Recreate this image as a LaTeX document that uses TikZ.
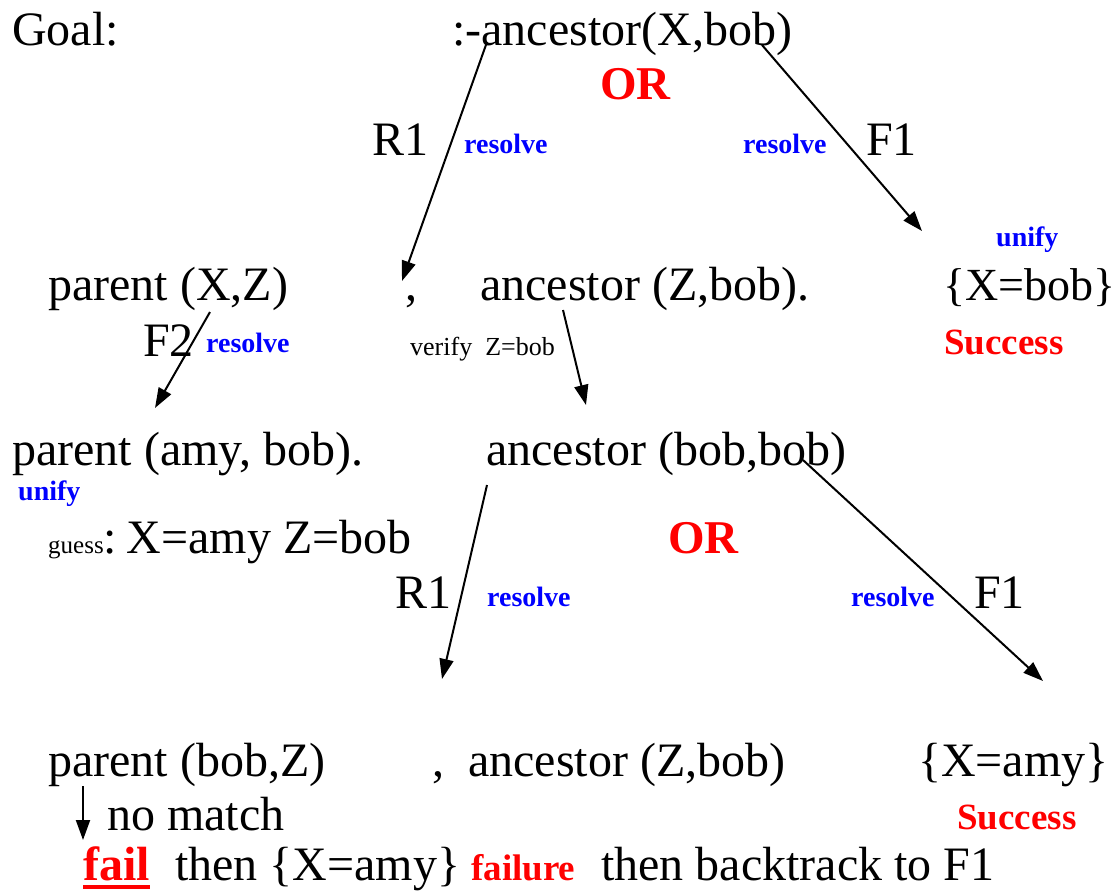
\documentclass[tikz,border=0pt]{standalone}
\usepackage{fontspec}
\setmainfont{Liberation Serif}
\usetikzlibrary{arrows.meta}
\definecolor{myred}{RGB}{255,0,0}
\definecolor{myblue}{RGB}{0,0,255}
\tikzset{
  txt/.style={anchor=base west,inner sep=0pt,font=\fontsize{48}{56}\selectfont},
  blab/.style={anchor=base west,inner sep=0pt,text=myblue,font=\fontsize{28}{32}\selectfont\bfseries},
  orlab/.style={anchor=base west,inner sep=0pt,text=myred,font=\fontsize{47}{54}\selectfont\bfseries},
  sucl/.style={anchor=base west,inner sep=0pt,text=myred,font=\fontsize{37}{42}\selectfont\bfseries},
  small/.style={anchor=base west,inner sep=0pt,font=\fontsize{26}{30}\selectfont},
  arr/.style={line width=2pt,-{Triangle[length=20pt,width=14pt]}}
}
\begin{document}
\begin{tikzpicture}[x=1pt,y=-1pt]
\useasboundingbox (0,0) rectangle (1120,892);
% row 1
\node[txt] (goal) at (12,45) {Goal:};
\node[txt] (top) at (452,45) {:-ancestor(X,bob)};
\node[orlab] (or1) at (600,99) {OR};
\node[txt] (r1a) at (372,155) {R1};
\node[blab] (res1) at (464,153) {resolve};
\node[blab] (res2) at (743,153) {resolve};
\node[txt] (f1a) at (866,155) {F1};
\node[blab] (unify1) at (996,246) {unify};
% row 2
\node[txt] (parXZ) at (48,300) {parent (X,Z)};
\node[txt] (comma1) at (405,300) {,};
\node[txt] (ancZ) at (480,300) {ancestor (Z,bob).};
\node[txt,font=\fontsize{46}{54}\selectfont] (xbob) at (943,300) {\{X=bob\}};
\node[txt] (f2) at (143,356) {F2};
\node[blab] (res3) at (206,352) {resolve};
\node[small] (verify) at (410,355) {verify~ Z=bob};
\node[sucl] (succ1) at (944,354) {Success};
% row 3
\node[txt] (paramy) at (12,465) {parent (amy, bob).};
\node[txt] (ancbb) at (486,465) {ancestor (bob,bob)};
\node[blab] (unify2) at (18,500) {unify};
\node[txt] (guess) at (48,553) {{\fontsize{25}{28}\selectfont guess}:\hspace{0.2em}X=amy Z=bob};
\node[orlab] (or2) at (668,553) {OR};
\node[txt] (r1b) at (395,608) {R1};
\node[blab] (res4) at (487,606) {resolve};
\node[blab] (res5) at (851,606) {resolve};
\node[txt] (f1b) at (974,608) {F1};
% row 4
\node[txt] (parbob) at (48,776) {parent (bob,Z)};
\node[txt] (comma2) at (432,776) {,};
\node[txt] (ancZ2) at (468,776) {ancestor (Z,bob)};
\node[txt] (xamy) at (918,776) {\{X=amy\}};
\node[txt] (nomatch) at (107,830) {no match};
\node[sucl] (succ2) at (957,829) {Success};
\node[anchor=base west,inner sep=0pt,text=myred,font=\fontsize{48}{56}\selectfont\bfseries] (fail) at (83,880) {fail};
\node[txt] (then1) at (175,880) {then \{X=amy\}};
\node[sucl] (failure) at (471,880) {failure};
\node[txt] (then2) at (601,880) {then backtrack to F1};
\draw[myred,line width=4pt] (fail.south west |- 0,887) coordinate (ulA) -- (ulA -| fail.south east);
% arrow coordinates
\coordinate (a1s) at (487,42);  \coordinate (a1e) at (402,281);
\coordinate (a2s) at (762,45);  \coordinate (a2e) at (922,231);
\coordinate (a3s) at (210,312); \coordinate (a3e) at (155,408);
\coordinate (a4s) at (563,310); \coordinate (a4e) at (586,405);
\coordinate (a5s) at (487,485); \coordinate (a5e) at (442,679);
\coordinate (a6s) at (803,460); \coordinate (a6e) at (1043,681);
\coordinate (a7s) at (83,786);  \coordinate (a7e) at (83,840);
\draw[arr] (a1s) -- (a1e);
\draw[arr] (a2s) -- (a2e);
\draw[arr] (a3s) -- (a3e);
\draw[arr] (a4s) -- (a4e);
\draw[arr] (a5s) -- (a5e);
\draw[arr] (a6s) -- (a6e);
\draw[arr] (a7s) -- (a7e);
\end{tikzpicture}
\end{document}
